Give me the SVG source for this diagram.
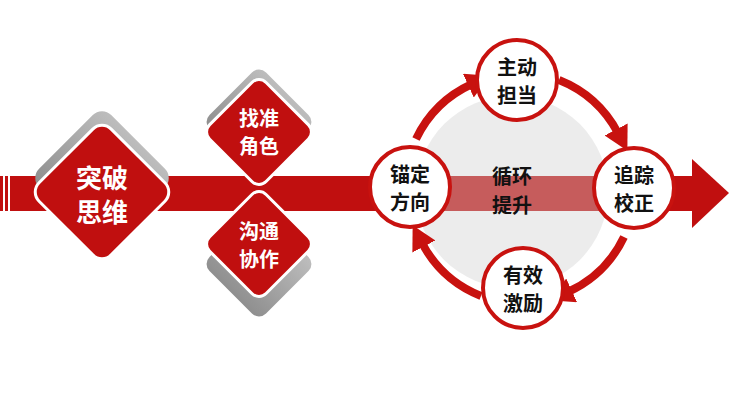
<svg xmlns="http://www.w3.org/2000/svg" width="729" height="410" viewBox="0 0 729 410">
<defs>
<linearGradient id="sh" x1="0" y1="0" x2="0" y2="1"><stop offset="0" stop-color="#bdbdbd"/><stop offset="1" stop-color="#8f8f8f"/></linearGradient>
<marker id="ah" markerUnits="userSpaceOnUse" markerWidth="24" markerHeight="26" refX="4" refY="13" orient="auto"><path d="M0,0 L24,13 L0,26 Z" fill="#c8120f"/></marker>
</defs>
<style>
.dm{fill:#c00f0f;stroke:#fff;stroke-width:3}
.sh{fill:url(#sh)}
.nd{fill:#fff;stroke:#c8120f;stroke-width:4}
.wt{fill:#fff;font-family:"Noto Sans CJK SC",sans-serif;font-weight:bold;text-anchor:middle}
.bt{fill:#111;font-family:"Noto Sans CJK SC",sans-serif;font-weight:bold;text-anchor:middle;font-size:20px}
.arc{fill:none;stroke:#c8120f;stroke-width:8;marker-end:url(#ah)}
</style>
<rect width="729" height="410" fill="#fff"/>
<g id="band">
<rect x="0" y="176" width="695" height="35" fill="#c00f0f"/>
<polygon points="692,159 729,193 692,228" fill="#c00f0f"/>
<rect x="3" y="176" width="2" height="35" fill="#fff"/>
<rect x="8" y="176" width="2" height="35" fill="#fff"/>
</g>
<circle cx="512" cy="192" r="96" fill="#d0d0d0" opacity="0.4"/>
<g id="n-tupo">
<rect class="sh" x="51" y="127" width="102" height="102" rx="13" transform="rotate(45 102 178)"/>
<rect class="dm" x="51" y="141" width="102" height="102" rx="13" transform="rotate(45 102 192)"/>
<text class="wt" font-size="26" x="102" y="188">突破</text>
<text class="wt" font-size="26" x="102" y="222">思维</text>
</g>
<g id="n-zhaozhun">
<rect class="sh" x="219" y="82" width="80" height="80" rx="10" transform="rotate(45 259 122)"/>
<rect class="dm" x="219" y="92" width="80" height="80" rx="10" transform="rotate(45 259 132)"/>
<text class="wt" font-size="20" x="259" y="126">找准</text>
<text class="wt" font-size="20" x="259" y="154">角色</text>
</g>
<g id="n-goutong">
<rect class="sh" x="219" y="224" width="80" height="80" rx="10" transform="rotate(45 259 264)"/>
<rect class="dm" x="219" y="204" width="80" height="80" rx="10" transform="rotate(45 259 244)"/>
<text class="wt" font-size="20" x="259" y="239">沟通</text>
<text class="wt" font-size="20" x="259" y="267">协作</text>
</g>
<g id="connectors">
<path class="arc" d="M416,139 A115,115 0 0 1 472,84"/>
<path class="arc" d="M559,80 A115,115 0 0 1 618,133"/>
<path class="arc" d="M624,237 A115,115 0 0 1 568,292"/>
<path class="arc" d="M481,296 A115,115 0 0 1 422,243"/>
</g>
<g id="n-center">
<text class="bt" font-size="22" x="512" y="184">循环</text>
<text class="bt" font-size="22" x="512" y="213">提升</text>
</g>
<g id="n-zhudong"><circle class="nd" cx="517" cy="80" r="40"/><text class="bt" x="517" y="75">主动</text><text class="bt" x="517" y="103">担当</text></g>
<g id="n-maoding"><circle class="nd" cx="410" cy="187" r="40"/><text class="bt" x="410" y="182">锚定</text><text class="bt" x="410" y="210">方向</text></g>
<g id="n-zhuizong"><circle class="nd" cx="634" cy="188" r="40"/><text class="bt" x="634" y="183">追踪</text><text class="bt" x="634" y="211">校正</text></g>
<g id="n-youxiao"><circle class="nd" cx="523" cy="288" r="40"/><text class="bt" x="523" y="283">有效</text><text class="bt" x="523" y="311">激励</text></g>
</svg>
